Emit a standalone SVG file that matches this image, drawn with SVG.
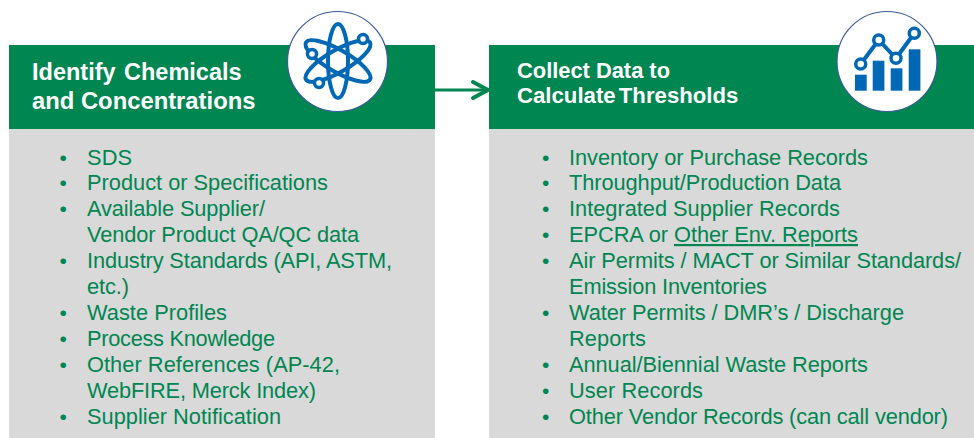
<svg xmlns="http://www.w3.org/2000/svg" width="974" height="438" viewBox="0 0 974 438">
<style>
text{font-family:"Liberation Sans",Arial,sans-serif}
.h{fill:#008651}.b{fill:#d9d9d9}
.t{font-weight:bold;fill:#fff}
.l{font-size:21.8px;fill:#008651}
.d{font-size:21px;fill:#008651}
.c{fill:#fff;stroke:#3b5a9a;stroke-width:1.2}
.i{fill:none;stroke:#0068b5;stroke-width:4;stroke-linecap:round;stroke-linejoin:round}
.e{fill:#fff;stroke:#0068b5;stroke-width:3.5}
</style>
<rect width="974" height="438" fill="#fff"/>
<g id="left-node">
<rect class="b" x="9" y="129" width="426" height="309"/>
<rect class="h" x="9" y="45" width="426" height="84"/>
<text class="t" font-size="23.5" x="32" y="80">Identify <tspan x="124">Chemicals</tspan></text>
<text class="t" font-size="23.8" x="32" y="109">and Concentrations</text>
<g class="l">
<text x="87" y="165" textLength="45">SDS</text><text x="87" y="190" textLength="241">Product or Specifications</text><text x="87" y="216" textLength="178">Available Supplier/</text><text x="87" y="242" textLength="272">Vendor Product QA/QC data</text><text x="87" y="268" textLength="305">Industry Standards (API, ASTM,</text><text x="87" y="294" textLength="42">etc.)</text><text x="87" y="320" textLength="140">Waste Profiles</text><text x="87" y="346" textLength="188">Process Knowledge</text><text x="87" y="372" textLength="253">Other References (AP-42,</text><text x="87" y="398" textLength="229">WebFIRE, Merck Index)</text><text x="87" y="424" textLength="194">Supplier Notification</text>
</g>
<g class="d">
<text x="59.5" y="165">•</text><text x="59.5" y="190">•</text><text x="59.5" y="216">•</text><text x="59.5" y="268">•</text><text x="59.5" y="320">•</text><text x="59.5" y="346">•</text><text x="59.5" y="372">•</text><text x="59.5" y="424">•</text>
</g>
</g>
<g id="left-icon">
<circle class="c" cx="337.5" cy="61.5" r="50"/>
<g class="i">
<ellipse cx="338" cy="61" rx="37" ry="11" transform="rotate(30 338 61)"/>
<ellipse cx="338" cy="61" rx="37" ry="11" transform="rotate(-30 338 61)"/>
<ellipse cx="338" cy="61" rx="37" ry="10" transform="rotate(90 338 61)"/>
</g>
<circle class="e" cx="363" cy="39" r="4.5"/><circle class="e" cx="312" cy="54" r="4.5"/><circle class="e" cx="319" cy="83" r="4.5"/>
</g>
<g id="right-node">
<rect class="b" x="489" y="129" width="485" height="309"/>
<rect class="h" x="489" y="45" width="485" height="84"/>
<text class="t" font-size="22" x="517" y="78" textLength="153" lengthAdjust="spacingAndGlyphs">Collect Data to</text>
<text class="t" font-size="22.2" word-spacing="-3" x="517" y="103">Calculate Thresholds</text>
<g class="l">
<text x="569" y="165" textLength="299">Inventory or Purchase Records</text><text x="569" y="190" textLength="272">Throughput/Production Data</text><text x="569" y="216" textLength="271">Integrated Supplier Records</text><text x="569" y="242" textLength="99">EPCRA or</text><text x="674" y="242" textLength="184" text-decoration="underline">Other Env. Reports</text><text x="569" y="268" textLength="392">Air Permits / MACT or Similar Standards/</text><text x="569" y="294" textLength="198">Emission Inventories</text><text x="569" y="320" textLength="335">Water Permits / DMR’s / Discharge</text><text x="569" y="346" textLength="77">Reports</text><text x="569" y="372" textLength="299">Annual/Biennial Waste Reports</text><text x="569" y="398" textLength="134">User Records</text><text x="569" y="424" textLength="379">Other Vendor Records (can call vendor)</text>
</g>
<g class="d">
<text x="542" y="165">•</text><text x="542" y="190">•</text><text x="542" y="216">•</text><text x="542" y="242">•</text><text x="542" y="268">•</text><text x="542" y="320">•</text><text x="542" y="372">•</text><text x="542" y="398">•</text><text x="542" y="424">•</text>
</g>
</g>
<g id="right-icon">
<circle class="c" cx="887" cy="61.5" r="50"/>
<g fill="#0068b5"><rect x="855" y="74.7" width="11.7" height="16"/><rect x="872.7" y="60.7" width="11.7" height="30"/><rect x="890.7" y="68.3" width="11.7" height="22.4"/><rect x="908.7" y="49.3" width="11.7" height="41.4"/></g>
<path class="i" d="M860.7 64L878.7 40L896 58.3L914.3 33.3"/>
<circle class="e" cx="860.7" cy="64" r="5"/><circle class="e" cx="878.7" cy="40" r="5"/><circle class="e" cx="896" cy="58.3" r="5"/><circle class="e" cx="914.3" cy="33.3" r="5"/>
</g>
<g id="connectors">
<path d="M435 90H488" fill="none" stroke="#008651" stroke-width="3"/>
<path d="M473 82L488 90L473 98" fill="none" stroke="#008651" stroke-width="4" stroke-linecap="round"/>
</g>
</svg>
